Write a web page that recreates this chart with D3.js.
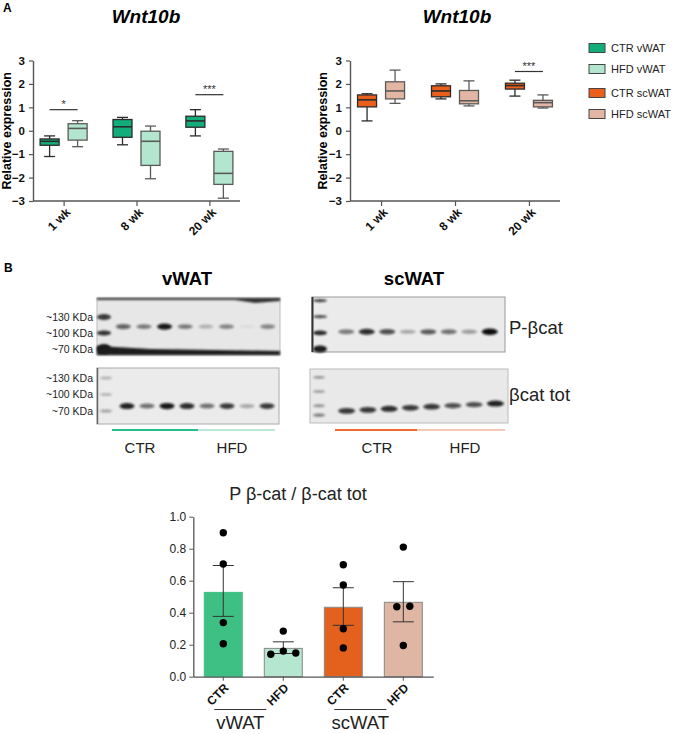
<!DOCTYPE html>
<html><head><meta charset="utf-8">
<script src="https://cdn.jsdelivr.net/npm/d3@7"></script>
<style>
body{margin:0;background:#fff;}
svg{display:block;font-family:Arial,"Liberation Sans",Helvetica,sans-serif;}
</style></head><body>
<svg id="c" width="677" height="734"></svg>
<script>
// ---------------- DATA ----------------
const timepoints = ["1 wk", "8 wk", "20 wk"];
const boxTicks = [3, 2, 1, 0, -1, -2, -3];
// five-number summaries: [min, q1, median, q3, max]
const ctrVWAT  = [[-1.1, -0.62, -0.45, -0.35, -0.22], [-0.6, -0.28, 0.17, 0.48, 0.57], [-0.22, 0.15, 0.42, 0.62, 0.9]];
const hfdVWAT  = [[-0.68, -0.4, 0.1, 0.3, 0.43], [-2.05, -1.48, -0.45, -0.02, 0.2], [-2.88, -2.29, -1.82, -0.88, -0.78]];
const ctrSCWAT = [[0.42, 1.02, 1.32, 1.53, 1.58], [1.36, 1.45, 1.7, 1.92, 2.0], [1.48, 1.78, 1.93, 2.03, 2.16]];
const hfdSCWAT = [[1.17, 1.36, 1.7, 2.09, 2.59], [1.06, 1.15, 1.28, 1.72, 2.13], [0.97, 1.02, 1.2, 1.3, 1.53]];
const sigVWATTime = ["1 wk", "20 wk"];
const sigVWATLevel = [0.9, 1.54];
const sigVWATLabel = ["*", "***"];
const sigSCWATTime = ["20 wk"];
const sigSCWATLevel = [2.53];
const sigSCWATLabel = ["***"];
const legendLabels = ["CTR vWAT", "HFD vWAT", "CTR scWAT", "HFD scWAT"];

// western blot lanes and band intensities (0..1)
const lanes = ["CTR1", "CTR2", "CTR3", "CTR4", "HFD1", "HFD2", "HFD3", "HFD4"];
const markerLabels = ["~130 KDa", "~100 KDa", "~70 KDa"];
const markerKDa = [130, 100, 70];
const vwatPbcat  = [0.6, 0.5, 0.95, 0.5, 0.25, 0.45, 0.05, 0.45];
const vwatTot    = [0.9, 0.55, 0.95, 0.85, 0.55, 0.8, 0.3, 0.8];
const scwatPbcat = [0.5, 0.85, 0.7, 0.3, 0.65, 0.55, 0.35, 1.0];
const scwatTot   = [0.8, 0.8, 0.85, 0.8, 0.8, 0.7, 0.7, 0.9];

// bar chart
const barGroups = ["CTR vWAT", "HFD vWAT", "CTR scWAT", "HFD scWAT"];
const barLabels = ["CTR", "HFD", "CTR", "HFD"];
const barMeans = [0.527, 0.177, 0.434, 0.465];
const barErrHi = [0.695, 0.218, 0.556, 0.594];
const barErrLo = [0.377, 0.145, 0.321, 0.343];
const barTicks = [0, 0.2, 0.4, 0.6, 0.8, 1.0];
const dotsCtrV = [0.9, 0.704, 0.338, 0.206];
const dotsHfdV = [0.285, 0.14, 0.16, 0.148];
const dotsCtrS = [0.7, 0.573, 0.3, 0.18];
const dotsHfdS = [0.81, 0.437, 0.44, 0.195];

// ---------------- STYLE ----------------
const colBox = ["#12ad7b", "#b3e6cf", "#ea5f1c", "#e2b6a3"];
const colBar = ["#3ec084", "#b5e6d0", "#e4601d", "#dfb5a3"];
const svg = d3.select("#c");
const defs = svg.append("defs");
defs.append("filter").attr("id", "blur").attr("x", "-50%").attr("y", "-100%").attr("width", "200%").attr("height", "300%")
  .append("feGaussianBlur").attr("stdDeviation", 0.9);

// panel letters
svg.append("text").attr("x", 3).attr("y", 12).attr("font-size", 12).attr("font-weight", "bold").text("A");
svg.append("text").attr("x", 4).attr("y", 272).attr("font-size", 12).attr("font-weight", "bold").text("B");

// ---------------- BOX PLOTS ----------------
const yBox = d3.scaleLinear().domain([-3, 3]).range([201, 60.5]);

function boxPanel(x0, x1, ctr, hfd, cCtr, cHfd, sigT, sigL, sigLab, titleX, labelX) {
  const g = svg.append("g");
  const x = d3.scalePoint().domain(timepoints).range([x0, x1]).padding(0.42);
  g.append("text").attr("x", titleX).attr("y", 23).attr("text-anchor", "middle")
    .attr("font-size", 19).attr("font-weight", "bold").attr("font-style", "italic").text("Wnt10b");
  const ya = g.append("g").attr("transform", `translate(${x0},0)`)
    .call(d3.axisLeft(yBox).tickValues(boxTicks).tickSize(4).tickSizeOuter(0).tickFormat(d3.format("d")));
  ya.select(".domain").attr("stroke", "#555").attr("stroke-width", 1.4);
  ya.selectAll(".tick line").attr("stroke", "#555").attr("stroke-width", 1.2);
  ya.selectAll(".tick text").attr("font-size", 11.5).attr("font-weight", "bold").attr("fill", "#111")
    .attr("font-family", "Arial, 'Liberation Sans', sans-serif").attr("dx", -1);
  g.append("text").attr("transform", `translate(${labelX},${yBox(0)}) rotate(-90)`).attr("text-anchor", "middle")
    .attr("font-size", 12.5).attr("font-weight", "bold").text("Relative expression");
  g.append("line").attr("x1", x0).attr("x2", x1).attr("y1", yBox(-3)).attr("y2", yBox(-3))
    .attr("stroke", "#555").attr("stroke-width", 1.4);
  const xa = g.append("g").attr("transform", `translate(0,${yBox(-3)})`)
    .call(d3.axisBottom(x).tickSize(5).tickSizeOuter(0));
  xa.select(".domain").remove();
  xa.selectAll(".tick line").attr("stroke", "#555").attr("stroke-width", 1.2);
  xa.selectAll(".tick text").attr("font-size", 12).attr("font-weight", "bold").attr("fill", "#111")
    .attr("font-family", "Arial, 'Liberation Sans', sans-serif")
    .attr("text-anchor", "end").attr("dy", null).attr("y", 0)
    .attr("transform", "translate(7,12) rotate(-45)");
  const bw = 19, cap = 11, off = 14;
  const series = [{d: ctr, c: cCtr, s: "#2b2b2b", o: -off}, {d: hfd, c: cHfd, s: "#5a5a5a", o: off}];
  series.forEach(sr => {
    sr.d.forEach((v, i) => {
      const cx = x(timepoints[i]) + sr.o;
      const bg = g.append("g").attr("stroke", sr.s).attr("stroke-width", 1.3);
      bg.append("line").attr("x1", cx).attr("x2", cx).attr("y1", yBox(v[0])).attr("y2", yBox(v[1]));
      bg.append("line").attr("x1", cx).attr("x2", cx).attr("y1", yBox(v[3])).attr("y2", yBox(v[4]));
      bg.append("line").attr("x1", cx - cap / 2).attr("x2", cx + cap / 2).attr("y1", yBox(v[0])).attr("y2", yBox(v[0]));
      bg.append("line").attr("x1", cx - cap / 2).attr("x2", cx + cap / 2).attr("y1", yBox(v[4])).attr("y2", yBox(v[4]));
      bg.append("rect").attr("x", cx - bw / 2).attr("width", bw).attr("y", yBox(v[3]))
        .attr("height", yBox(v[1]) - yBox(v[3])).attr("fill", sr.c);
      bg.append("line").attr("x1", cx - bw / 2).attr("x2", cx + bw / 2).attr("y1", yBox(v[2])).attr("y2", yBox(v[2]))
        .attr("stroke-width", 1.6);
    });
  });
  sigT.forEach((t, i) => {
    const y = yBox(sigL[i]);
    g.append("line").attr("x1", x(t) - off).attr("x2", x(t) + off).attr("y1", y).attr("y2", y)
      .attr("stroke", "#333").attr("stroke-width", 1.2);
    g.append("text").attr("x", x(t)).attr("y", y - 2).attr("text-anchor", "middle")
      .attr("font-size", 11).attr("fill", "#333").text(sigLab[i]);
  });
}
boxPanel(33, 240, ctrVWAT, hfdVWAT, colBox[0], colBox[1], sigVWATTime, sigVWATLevel, sigVWATLabel, 146, 11);
boxPanel(350, 560, ctrSCWAT, hfdSCWAT, colBox[2], colBox[3], sigSCWATTime, sigSCWATLevel, sigSCWATLabel, 457, 327);

// legend
const legY = d3.scalePoint().domain(legendLabels).range([49, 112]);
legendLabels.forEach((l, i) => {
  const yy = legY(l) + (i >= 2 ? 2 : -1);
  svg.append("rect").attr("x", 589).attr("y", yy - 4.5).attr("width", 16).attr("height", 9)
    .attr("fill", colBox[i]).attr("stroke", "#444").attr("stroke-width", 1);
  svg.append("text").attr("x", 611).attr("y", yy + 4.2).attr("font-size", 11).attr("fill", "#222").text(l);
});

// ---------------- WESTERN BLOTS ----------------
function blot(opts) {
  const g = svg.append("g");
  g.append("rect").attr("x", opts.x0).attr("y", opts.y0).attr("width", opts.x1 - opts.x0).attr("height", opts.y1 - opts.y0)
    .attr("fill", opts.bg).attr("stroke", opts.edge).attr("stroke-width", 1);
  const lx = d3.scaleBand().domain(lanes).range([opts.l0, opts.l1]);
  const ky = d3.scaleLinear().domain([130, 70]).range(opts.kdaY);
  opts.ladder.forEach((k, i) => {
    g.append("ellipse").attr("cx", opts.ladX).attr("cy", ky(k)).attr("rx", opts.ladRx).attr("ry", opts.ladRy[i])
      .attr("fill", "#1a1a1a").attr("opacity", opts.ladOp[i]).attr("filter", "url(#blur)");
  });
  opts.vals.forEach((v, i) => {
    const cy = ky(opts.bandKDa) - i * (opts.tilt || 0);
    g.append("ellipse").attr("cx", lx.bandwidth() / 2 + lx(lanes[i])).attr("cy", cy)
      .attr("rx", opts.brx).attr("ry", 1.6 + 1.6 * v)
      .attr("fill", "#111").attr("opacity", Math.max(0.05, v)).attr("filter", "url(#blur)");
  });
  if (opts.labels) {
    markerKDa.forEach((k, i) => {
      g.append("text").attr("x", opts.x0 - 4).attr("y", ky(k) + 3.5).attr("text-anchor", "end")
        .attr("font-size", 10.5).attr("fill", "#222").text(markerLabels[i]);
    });
  }
  return g;
}
const b1 = blot({x0: 97, x1: 280, y0: 298, y1: 355, bg: "#e7e7e7", edge: "#bbb", l0: 113, l1: 278,
  kdaY: [317, 349], ladder: [130, 100, 70], ladX: 104, ladRx: 7, ladRy: [3, 2.5, 5], ladOp: [0.85, 0.9, 1],
  vals: vwatPbcat, bandKDa: 112, brx: 7.5, labels: true});
b1.append("path").attr("d", "M97,346 L150,349 L280,351 L280,355 L97,355 Z").attr("fill", "#1a1a1a").attr("filter", "url(#blur)");
b1.append("path").attr("d", "M97,298 L280,298 L280,301 L255,303 L235,300 L97,300 Z").attr("fill", "#333").attr("filter", "url(#blur)");
const b2 = blot({x0: 97, x1: 279, y0: 368, y1: 424, bg: "#ebebeb", edge: "#aaa", l0: 117, l1: 277,
  kdaY: [378, 411], ladder: [130, 100, 70], ladX: 106, ladRx: 6, ladRy: [1.3, 1.3, 1.6], ladOp: [0.3, 0.3, 0.35],
  vals: vwatTot, bandKDa: 79, brx: 7.5, labels: true});
b2.append("line").attr("x1", 97.5).attr("x2", 97.5).attr("y1", 368).attr("y2", 424).attr("stroke", "#666").attr("stroke-width", 1.5);
const b3 = blot({x0: 312, x1: 505, y0: 297, y1: 352, bg: "#ebebeb", edge: "#999", l0: 336, l1: 500,
  kdaY: [316.7, 349], ladder: [160, 130, 100, 70], ladX: 320, ladRx: 7, ladRy: [1.6, 1.6, 2.4, 3.5], ladOp: [0.8, 0.75, 0.95, 1],
  vals: scwatPbcat, bandKDa: 102, brx: 8, labels: false});
b3.append("line").attr("x1", 312.5).attr("x2", 312.5).attr("y1", 297).attr("y2", 352).attr("stroke", "#333").attr("stroke-width", 2);
const b4 = blot({x0: 310, x1: 508, y0: 369, y1: 423, bg: "#e9e9e9", edge: "#bbb", l0: 336, l1: 506,
  kdaY: [377.3, 405.7], ladder: [130, 100, 70, 50], ladX: 319, ladRx: 6, ladRy: [1.3, 1.3, 1.5, 1.6], ladOp: [0.45, 0.4, 0.45, 0.55],
  vals: scwatTot, bandKDa: 59, tilt: 1.05, brx: 8.5, labels: false});

svg.append("text").attr("x", 187).attr("y", 285).attr("text-anchor", "middle").attr("font-size", 18.5).attr("font-weight", "bold").text("vWAT");
svg.append("text").attr("x", 414).attr("y", 285).attr("text-anchor", "middle").attr("font-size", 18.5).attr("font-weight", "bold").text("scWAT");
svg.append("text").attr("x", 509).attr("y", 334).attr("font-size", 18.5).attr("fill", "#222").text("P-βcat");
svg.append("text").attr("x", 509).attr("y", 401).attr("font-size", 18.5).attr("fill", "#222").text("βcat tot");
[[112, 198, "#25bd8c"], [198, 275, "#bfe9d7"], [335, 417, "#ee6a2c"], [417, 505, "#f3c8b4"]].forEach(s => {
  svg.append("line").attr("x1", s[0]).attr("x2", s[1]).attr("y1", 430).attr("y2", 430).attr("stroke", s[2]).attr("stroke-width", 2);
});
[[140, "CTR"], [232, "HFD"], [377, "CTR"], [465, "HFD"]].forEach(s => {
  svg.append("text").attr("x", s[0]).attr("y", 453).attr("text-anchor", "middle").attr("font-size", 15).attr("fill", "#222").text(s[1]);
});

// ---------------- BAR CHART ----------------
const yBar = d3.scaleLinear().domain([0, 1]).range([676.7, 516.7]);
const xBar = d3.scaleBand().domain(barGroups).range([193.3, 433.3]).paddingInner(0.367).paddingOuter(0.183);
svg.append("text").attr("x", 298).attr("y", 500).attr("text-anchor", "middle").attr("font-size", 18).attr("fill", "#222")
  .text("P β-cat / β-cat tot");
const yba = svg.append("g").attr("transform", "translate(193.3,0)")
  .call(d3.axisLeft(yBar).tickValues(barTicks).tickSize(4).tickSizeOuter(0).tickFormat(d3.format(".1f")));
yba.select(".domain").attr("stroke", "#555").attr("stroke-width", 1.3);
yba.selectAll(".tick line").attr("stroke", "#555");
yba.selectAll(".tick text").attr("font-size", 12).attr("fill", "#222").attr("font-family", "Arial, 'Liberation Sans', sans-serif");
svg.selectAll(".bar").data(barGroups).join("rect")
  .attr("x", d => xBar(d)).attr("width", xBar.bandwidth())
  .attr("y", (d, i) => yBar(barMeans[i])).attr("height", (d, i) => yBar(0) - yBar(barMeans[i]))
  .attr("fill", (d, i) => colBar[i]).attr("stroke", (d, i) => i === 0 ? "#3ec084" : "#888").attr("stroke-width", 1);
const xba = svg.append("g").attr("transform", `translate(0,${yBar(0)})`)
  .call(d3.axisBottom(xBar).tickSize(4).tickSizeOuter(0).tickFormat((d, i) => barLabels[i]));
xba.select(".domain").attr("stroke", "#555").attr("stroke-width", 1.3);
xba.selectAll(".tick line").attr("stroke", "#555");
xba.selectAll(".tick text").attr("font-size", 12).attr("font-weight", "bold").attr("fill", "#111")
  .attr("font-family", "Arial, 'Liberation Sans', sans-serif")
  .attr("text-anchor", "end").attr("dy", null).attr("y", 0).attr("transform", "translate(6,12) rotate(-45)");
barGroups.forEach((d, i) => {
  const cx = xBar(d) + xBar.bandwidth() / 2, cw = 10.5;
  const eg = svg.append("g").attr("stroke", "#333").attr("stroke-width", 1);
  eg.append("line").attr("x1", cx).attr("x2", cx).attr("y1", yBar(barErrLo[i])).attr("y2", yBar(barErrHi[i]));
  eg.append("line").attr("x1", cx - cw).attr("x2", cx + cw).attr("y1", yBar(barErrLo[i])).attr("y2", yBar(barErrLo[i]));
  eg.append("line").attr("x1", cx - cw).attr("x2", cx + cw).attr("y1", yBar(barErrHi[i])).attr("y2", yBar(barErrHi[i]));
});
[dotsCtrV, dotsHfdV, dotsCtrS, dotsHfdS].forEach((vals, gi) => {
  const cx = xBar(barGroups[gi]) + xBar.bandwidth() / 2;
  const used = vals.map(() => false);
  vals.forEach((v, i) => {
    if (used[i]) return;
    const cluster = vals.map((w, j) => j).filter(j => !used[j] && Math.abs(vals[j] - v) < 0.03);
    cluster.forEach((j, k) => {
      used[j] = true;
      const dx = (k - (cluster.length - 1) / 2) * (cluster.length > 2 ? 12.5 : 13);
      svg.append("circle").attr("cx", cx + dx).attr("cy", yBar(vals[j])).attr("r", 3.7).attr("fill", "#000");
    });
  });
});
[["vWAT", 0, 1], ["scWAT", 2, 3]].forEach(s => {
  const a = xBar(barGroups[s[1]]) + xBar.bandwidth() / 2 - 9, b = xBar(barGroups[s[2]]) + xBar.bandwidth() / 2 - 17;
  svg.append("line").attr("x1", a).attr("x2", b).attr("y1", 709.5).attr("y2", 709.5).attr("stroke", "#333").attr("stroke-width", 1);
  svg.append("text").attr("x", (a + b) / 2).attr("y", 729).attr("text-anchor", "middle").attr("font-size", 18.5).attr("fill", "#222").text(s[0]);
});
</script>
</body></html>
